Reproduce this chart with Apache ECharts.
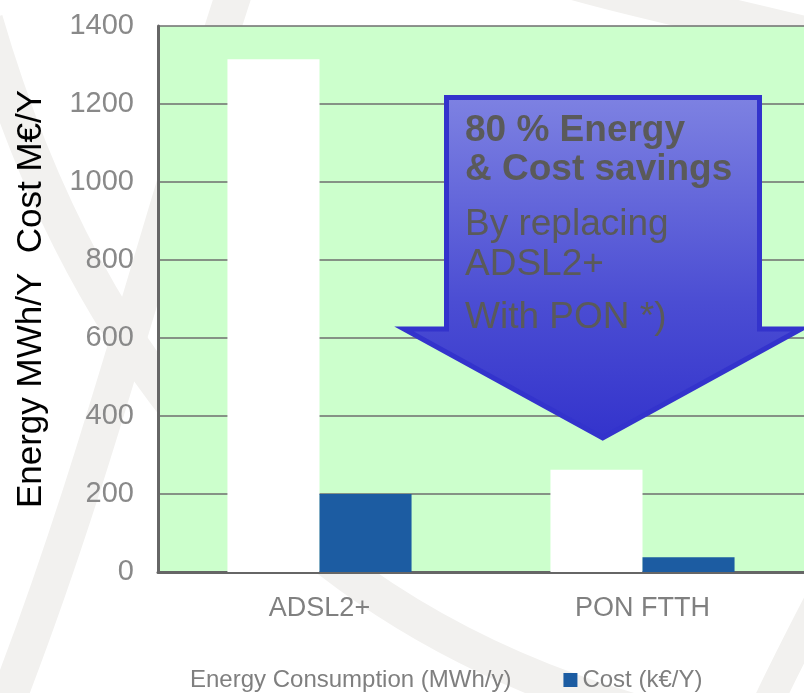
<!DOCTYPE html>
<html>
<head>
<meta charset="utf-8">
<script src="https://cdn.jsdelivr.net/npm/echarts@6/dist/echarts.min.js"></script>
<style>
  html, body { margin: 0; padding: 0; background: #ffffff; }
  #chart { width: 804px; height: 693px; }
</style>
</head>
<body>
<div id="chart"></div>
<script>
// Technologies compared
const categories = ['ADSL2+', 'PON FTTH'];
// Yearly energy use and yearly cost per technology
const energyValues = [1315, 262];
const costValues = [200, 38];
// Value axis ticks
const yTicks = [0, 200, 400, 600, 800, 1000, 1200, 1400];
// Series names shown in the legend
const seriesNames = ['Energy Consumption (MWh/y)', 'Cost (k\u20ac/Y)'];
// Callout text
const calloutBold = ['80 % Energy', '& Cost savings'];
const calloutPlain = ['By replacing', 'ADSL2+', 'With PON *)'];

const FONT = '"Liberation Sans", Arial, Helvetica, sans-serif';
const chart = echarts.init(document.getElementById('chart'), null, { renderer: 'canvas' });

// faint swirl bands in the page background
const bandColor = '#f2f1ef';
function band(x1, y1, cpx1, cpy1, cpx2, cpy2, x2, y2, w) {
  return {
    type: 'bezierCurve', z: -5, silent: true,
    shape: { x1, y1, cpx1, cpy1, cpx2, cpy2, x2, y2 },
    style: { stroke: bandColor, lineWidth: w, fill: null }
  };
}

// down arrow callout
const arrowPts = [[446.5, 97.5], [759.5, 97.5], [759.5, 329], [801, 329], [602.7, 438], [404, 329], [446.5, 329]];
const textX = 465;
const calloutLines = [
  { t: calloutBold[0], b: true, base: 143 },
  { t: calloutBold[1], b: true, base: 182 },
  { t: calloutPlain[0], b: false, base: 237 },
  { t: calloutPlain[1], b: false, base: 277 },
  { t: calloutPlain[2], b: false, base: 330 }
];

const graphics = [
  band(-15, 20, 75, 330, 280, 660, 760, 740, 36),
  band(0, 720, 95, 480, 150, 250, 235, -10, 36),
  band(540, -30, 620, -5, 720, 15, 840, 45, 40),
  band(760, 720, 782, 672, 802, 634, 830, 580, 30),
  {
    type: 'polygon', z: 20,
    shape: { points: arrowPts },
    style: {
      fill: new echarts.graphic.LinearGradient(0, 0, 0, 1, [
        { offset: 0, color: '#7e82e2' },
        { offset: 0.6, color: '#4b4dd3' },
        { offset: 1, color: '#3333cc' }
      ]),
      stroke: '#3333cc', lineWidth: 5, lineJoin: 'miter'
    }
  }
];
calloutLines.forEach(function (l) {
  graphics.push({
    type: 'text', z: 21,
    style: {
      text: l.t, x: textX, y: l.base - 12,
      verticalAlign: 'middle', align: 'left',
      font: (l.b ? 'bold ' : '') + '37px ' + FONT,
      fill: '#5a5a5a'
    }
  });
});

const option = {
  animation: false,
  backgroundColor: '#ffffff',
  grid: {
    left: 158, top: 26, width: 650, bottom: 121,
    show: true, backgroundColor: '#ccffcc', borderWidth: 0
  },
  legend: {
    left: 171, top: 668, padding: 0,
    itemWidth: 14, itemHeight: 14, itemGap: 52,
    icon: 'rect',
    textStyle: { fontFamily: FONT, fontSize: 24, color: '#7f7f7f' },
    data: seriesNames
  },
  xAxis: {
    type: 'category',
    data: categories,
    axisLine: { lineStyle: { color: '#666666', width: 3 } },
    axisTick: { show: false },
    axisLabel: { fontFamily: FONT, fontSize: 27, color: '#808080', margin: 23 }
  },
  yAxis: {
    type: 'value',
    min: yTicks[0], max: yTicks[yTicks.length - 1], interval: yTicks[1] - yTicks[0],
    name: 'Energy MWh/Y  Cost M\u20ac/Y',
    nameLocation: 'middle', nameRotate: 90, nameGap: 109,
    nameTextStyle: { fontFamily: FONT, fontSize: 35, color: '#000000' },
    axisLine: { show: true, lineStyle: { color: '#666666', width: 3 } },
    axisTick: { show: false },
    axisLabel: {
      fontFamily: FONT, fontSize: 29, color: '#898989', margin: 24,
      formatter: function (v) { return String(v); }
    },
    splitLine: { lineStyle: { color: '#6e6e6e', width: 1.5 } }
  },
  series: [
    {
      name: seriesNames[0], type: 'bar', data: energyValues,
      barGap: '0%', barCategoryGap: '43%',
      itemStyle: { color: '#ffffff' }
    },
    {
      name: seriesNames[1], type: 'bar', data: costValues,
      barGap: '0%', barCategoryGap: '43%',
      itemStyle: { color: '#1c5ca2' }
    }
  ],
  graphic: graphics
};
chart.setOption(option);
</script>
</body>
</html>
